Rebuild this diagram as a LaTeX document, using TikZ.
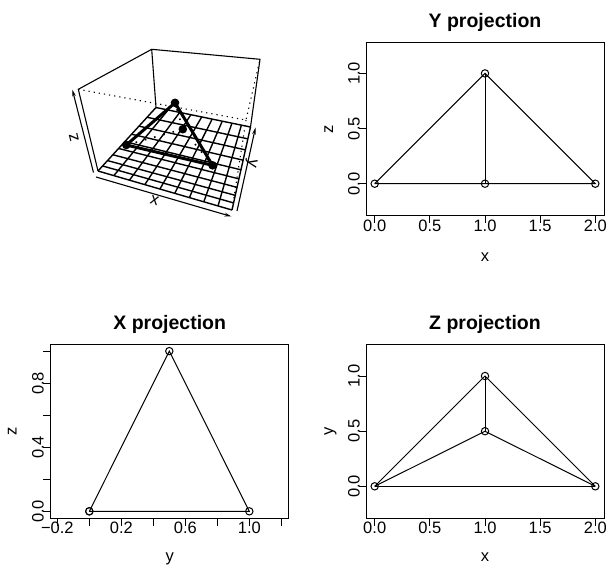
\documentclass[tikz,border=0pt]{standalone}
\usepackage{fontspec}
\setmainfont{Liberation Sans}
\usetikzlibrary{calc,arrows.meta}
\begin{document}
\begin{tikzpicture}[x=1pt,y=-1pt,
  txt/.style={inner sep=0pt, font=\fontsize{16.5}{18}\selectfont},
  ttl/.style={inner sep=0pt, font=\bfseries\fontsize{19.5}{22}\selectfont},
  frame/.style={line width=1pt},
  dat/.style={line width=1pt},
  opt/.style={circle, draw, line width=1pt, minimum size=7.4pt, inner sep=0pt},
  tk/.style={line width=1pt},
  gridln/.style={line width=1.4pt},
  boxln/.style={line width=1.1pt},
  dotbox/.style={line width=1.1pt, dash pattern=on 1.2pt off 4pt},
  thick3/.style={line width=3pt},
  hid3/.style={line width=1.6pt, dash pattern=on 1.6pt off 8pt},
  fpt/.style={circle, fill=black, minimum size=8.6pt, inner sep=0pt},
  axarr/.style={line width=1.1pt, -{Stealth[length=7pt,width=3.6pt]}}]
\useasboundingbox (0,0) rectangle (609,566);

% ================= 3D perspective panel =================
\coordinate (E) at (78.3,89.3);
\coordinate (F) at (151.7,49.3);
\coordinate (G) at (260,59.3);
\coordinate (H) at (246,120);
\coordinate (A) at (98,171);
\coordinate (B) at (232,210);
\coordinate (C) at (250.5,127);
\coordinate (D) at (156,107.5);
\draw[boxln] (A) -- (E) -- (F) -- (G) -- (C);
\draw[boxln] (F) -- (D);
\fill[white] (A) -- (B) -- (C) -- (D) -- cycle;
\foreach \i in {0,...,9}{
  \pgfmathsetmacro\sa{\i*91.1/((9-\i)*84.9+\i*91.1)}
  \pgfmathsetmacro\sb{\i*68.4/((9-\i)*58.4+\i*68.4)}
  \draw[gridln] ($(A)!\sa!(B)$) -- ($(D)!\sb!(C)$);
  \pgfmathsetmacro\sc{\i*58.4/((9-\i)*84.9+\i*58.4)}
  \pgfmathsetmacro\sd{\i*68.4/((9-\i)*91.1+\i*68.4)}
  \draw[gridln] ($(A)!\sc!(D)$) -- ($(B)!\sd!(C)$);
}
\draw[dotbox] (E) -- (H) -- (G);
\draw[dotbox] (H) -- (B);
% tetrahedron
\node[fpt] (ta) at (126.3,145) {};
\node[fpt] (tb) at (175,102.8) {};
\node[fpt] (tc) at (182.8,129.2) {};
\node[fpt] (td) at (212.5,165.3) {};
\draw[hid3] (ta.center) -- (tc.center);
\draw[hid3] (tc.center) -- (tb.center);
\draw[hid3] (tc.center) -- (td.center);
\draw[thick3] (ta.center) -- (tb.center) -- (td.center) -- cycle;
% axis arrows
\coordinate (z0) at (93.5,172.5);
\coordinate (z1) at (72.3,89.5);
\draw[axarr] (z0) -- (z1);
\coordinate (x0) at (96,177);
\coordinate (x1) at (231.5,216.5);
\draw[axarr] (x0) -- (x1);
\coordinate (y0) at (237,211);
\coordinate (y1) at (255.5,127.5);
\draw[axarr] (y0) -- (y1);
\node[txt, rotate=104] (zl) at (74,138) {z};
\node[txt, rotate=-16.3] (xl) at (154.5,200) {x};
\node[txt, rotate=-102.4] (yl) at (251,163.5) {y};

% ================= Y projection =================
\draw[frame] (366,42.3) rectangle (604,215.7);
\foreach \v/\l [count=\k] in {0/0.0,0.5/0.5,1/1.0,1.5/1.5,2/2.0}{
  \draw[tk] ({374.7+110.3*\v},215.7) -- ++(0,7.5);
  \node[txt,anchor=base] (yxt\k) at ({374.7+110.3*\v},231) {\l};
}
\foreach \v/\l [count=\k] in {0/0.0,0.5/0.5,1/1.0}{
  \draw[tk] (366,{183.7-110.3*\v}) -- ++(-7.5,0);
  \node[txt,rotate=90,anchor=base] (yyt\k) at (359.5,{183.7-110.3*\v}) {\l};
}
\node[ttl,anchor=base] (ytitle) at (485,27) {Y projection};
\node[txt,anchor=base] (yxlab) at (485,261.7) {x};
\node[txt,rotate=90,anchor=base] (yylab) at (333,129) {z};
\node[opt] (yp1) at (374.7,183.7) {};
\node[opt] (yp2) at (595.3,183.7) {};
\node[opt] (yp3) at (485,183.7) {};
\node[opt] (yp4) at (485,73.4) {};
\draw[dat] (yp1.center) -- (yp4.center) -- (yp2.center) -- (yp1.center);
\draw[dat] (yp3.center) -- (yp4.center);

% ================= X projection =================
\draw[frame] (50.7,344.3) rectangle (288.7,518.3);
\draw[tk] (57.3,518.3) -- (281.3,518.3);
\foreach \v in {-0.2,0,...,1.2}{
  \draw[tk] ({89.3+160*\v},518.3) -- ++(0,7.5);
}
\foreach \v/\l [count=\k] in {-0.2/−0.2,0.2/0.2,0.6/0.6,1.0/1.0}{
  \node[txt,anchor=base] (xxt\k) at ({89.3+160*\v},533.5) {\l};
}
\foreach \v in {0,0.2,...,1.0}{
  \draw[tk] (50.7,{511.3-160*\v}) -- ++(-7.5,0);
}
\foreach \v/\l [count=\k] in {0/0.0,0.4/0.4,0.8/0.8}{
  \node[txt,rotate=90,anchor=base] (xyt\k) at (43.5,{511.3-160*\v}) {\l};
}
\node[ttl,anchor=base] (xtitle) at (169.7,329) {X projection};
\node[txt,anchor=base] (xxlab) at (169.7,561.5) {y};
\node[txt,rotate=90,anchor=base] (xylab) at (16.7,431.3) {z};
\node[opt] (xp1) at (89.3,511.3) {};
\node[opt] (xp2) at (89.3,511.3) {};
\node[opt] (xp3) at (249.3,511.3) {};
\node[opt] (xp4) at (169.3,351.1) {};
\draw[dat] (xp1.center) -- (xp4.center) -- (xp3.center) -- (xp1.center);
\draw[dat] (xp2.center) -- (xp3.center);

% ================= Z projection =================
\draw[frame] (366,344.3) rectangle (604,518.3);
\foreach \v/\l [count=\k] in {0/0.0,0.5/0.5,1/1.0,1.5/1.5,2/2.0}{
  \draw[tk] ({374.7+110.3*\v},518.3) -- ++(0,7.5);
  \node[txt,anchor=base] (zxt\k) at ({374.7+110.3*\v},533.5) {\l};
}
\foreach \v/\l [count=\k] in {0/0.0,0.5/0.5,1/1.0}{
  \draw[tk] (366,{486.3-110.3*\v}) -- ++(-7.5,0);
  \node[txt,rotate=90,anchor=base] (zyt\k) at (359.5,{486.3-110.3*\v}) {\l};
}
\node[ttl,anchor=base] (ztitle) at (485,329) {Z projection};
\node[txt,anchor=base] (zxlab) at (485,561.5) {x};
\node[txt,rotate=90,anchor=base] (zylab) at (333,431.3) {y};
\node[opt] (zp1) at (374.7,486.3) {};
\node[opt] (zp2) at (595.3,486.3) {};
\node[opt] (zp3) at (485,431.2) {};
\node[opt] (zp4) at (485,376) {};
\draw[dat] (zp1.center) -- (zp2.center);
\draw[dat] (zp1.center) -- (zp4.center) -- (zp2.center);
\draw[dat] (zp1.center) -- (zp3.center) -- (zp2.center);
\draw[dat] (zp3.center) -- (zp4.center);
\end{tikzpicture}
\end{document}
